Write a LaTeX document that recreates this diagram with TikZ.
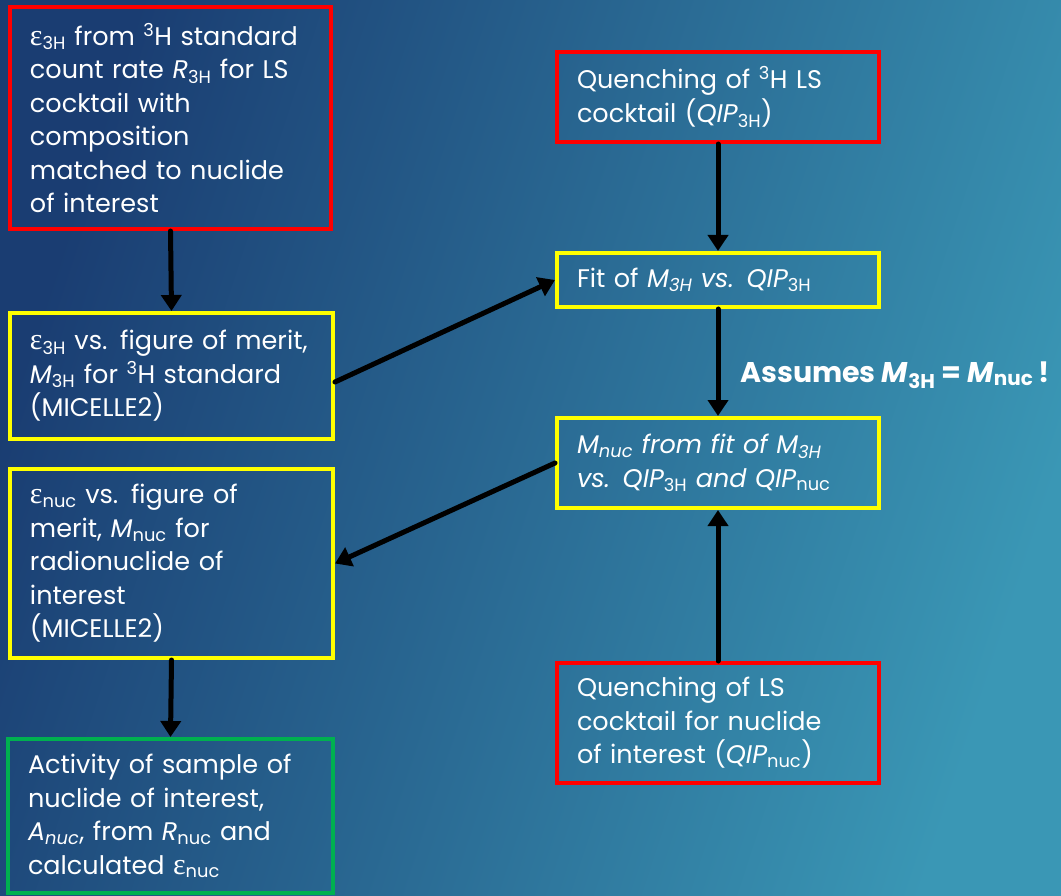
\documentclass[tikz,border=0pt]{standalone}
\usepackage{fontspec}
\setmainfont{Poppins}
\newfontfamily\grk{Liberation Serif}
\usetikzlibrary{arrows.meta}
\definecolor{bgL}{HTML}{1A3D72}
\definecolor{bgR}{HTML}{3A97B5}
\definecolor{bred}{HTML}{FF0000}
\definecolor{byel}{HTML}{FFFF00}
\definecolor{bgrn}{HTML}{00B050}
\newcommand{\eps}{{\grk\fontsize{30}{33.5}\selectfont ε}}
\newcommand{\sbs}[1]{\textsubscript{#1}}
\newcommand{\sps}[1]{\textsuperscript{#1}}
\begin{document}
\begin{tikzpicture}[x=1pt,y=-1pt,
  box/.style={draw, line width=4pt, inner sep=0pt, align=left, text=white,
    font=\fontsize{25.5}{33.5}\selectfont},
  arr/.style={line width=5pt, -{Triangle[length=16pt,width=20pt]}, line cap=round}]
\useasboundingbox (0,0) rectangle (1061,896);
\shade[left color=bgL, right color=bgR, shading angle=72] (0,0) rectangle (1061,896);

\node[box, draw=bred, minimum width=321pt, minimum height=222pt, text width=281pt] (b1) at (170.5,118)
  {\eps\sbs{3H} from \sps{3}H standard\\ count rate \textit{R}\sbs{3H} for LS\\ cocktail with\\ composition\\ matched to nuclide\\ of interest};
\node[box, draw=byel, minimum width=323pt, minimum height=126pt, text width=283pt] (b2) at (171.5,376)
  {\eps\sbs{3H} vs. figure of merit,\\ \textit{M}\sbs{3H} for \sps{3}H standard\\ (MICELLE2)};
\node[box, draw=byel, minimum width=323pt, minimum height=189pt, text width=283pt] (b3) at (171.5,563.5)
  {\eps\sbs{nuc} vs. figure of\\ merit, \textit{M}\sbs{nuc} for\\ radionuclide of\\ interest\\ (MICELLE2)};
\node[box, draw=bgrn, minimum width=325pt, minimum height=154pt, text width=285pt] (b4) at (170.5,816)
  {Activity of sample of\\ nuclide of interest,\\ \textit{A\sbs{nuc}},  from \textit{R}\sbs{nuc} and\\ calculated \eps\sbs{nuc}};
\node[box, draw=bred, minimum width=322pt, minimum height=90pt, text width=282pt] (b5) at (718,97)
  {Quenching of \sps{3}H LS\\ cocktail (\textit{QIP}\sbs{3H})};
\node[box, draw=byel, minimum width=322pt, minimum height=54pt, text width=282pt] (b6) at (718,280)
  {Fit of \textit{M\sbs{3H} vs. QIP}\sbs{3H}};
\node[box, draw=byel, minimum width=322pt, minimum height=90pt, text width=282pt] (b7) at (718,463)
  {\textit{M\sbs{nuc} from fit of M\sbs{3H}}\\ \textit{vs. QIP}\sbs{3H} \textit{and QIP}\sbs{nuc}};
\node[box, draw=bred, minimum width=322pt, minimum height=120pt, text width=282pt] (b8) at (718,723)
  {Quenching of LS\\ cocktail for nuclide\\ of interest (\textit{QIP}\sbs{nuc})};

\node[text=white, anchor=west, inner sep=0pt, font=\bfseries\fontsize{28.5}{30}\selectfont] (lab) at (740,375)
  {Assumes \textit{M}\sbs{3H} = \textit{M}\sbs{nuc}\,!};

\draw[arr] (b1.south) -- (b2.north);
\draw[arr] ([yshift=-6pt]b2.east) -- (b6.west);
\draw[arr] (b5.south) -- (b6.north);
\draw[arr] (b6.south) -- (b7.north);
\draw[arr] (b8.north) -- (b7.south);
\draw[arr] (b7.west) -- (b3.east);
\draw[arr] (b3.south) -- (b4.north);
\end{tikzpicture}
\end{document}
